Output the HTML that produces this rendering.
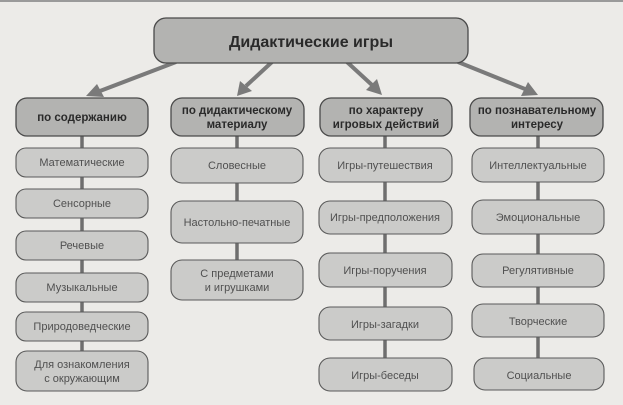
<!DOCTYPE html>
<html><head><meta charset="utf-8"><style>
html,body{margin:0;padding:0;background:#ecebe8;}
svg{display:block}
text{font-family:"Liberation Sans","Noto Sans CJK SC",sans-serif;text-anchor:middle;}
.h{fill:#b3b3b1;stroke:#4a4a4a;stroke-width:1.3}
.i{fill:#cbcbc9;stroke:#5a5a5a;stroke-width:1.1}
.ht{font-size:11.5px;font-weight:bold;fill:#2a2a2a}
.it{font-size:11px;fill:#505050}
.c{stroke:#6e6e6e;stroke-width:3.5}
.a{stroke:#7a7a7a;stroke-width:4}
</style></head><body>
<svg width="623" height="405" viewBox="0 0 623 405" xmlns="http://www.w3.org/2000/svg">
<rect x="0" y="0" width="623" height="2" fill="#9a9a9a"/>
<!-- connectors -->
<line class="c" x1="82" y1="136" x2="82" y2="351"/>
<line class="c" x1="237" y1="136" x2="237" y2="260"/>
<line class="c" x1="385" y1="136" x2="385" y2="358"/>
<line class="c" x1="538" y1="135" x2="538" y2="358"/>
<!-- arrows -->
<line class="a" x1="176" y1="62" x2="100" y2="91"/>
<polygon points="86,96 97,84 104,97" fill="#7a7a7a"/>
<line class="a" x1="272" y1="62" x2="246" y2="86"/>
<polygon points="237,96 240,81 252,91" fill="#7a7a7a"/>
<line class="a" x1="347" y1="62" x2="372" y2="85"/>
<polygon points="382,95 366,90 377,79" fill="#7a7a7a"/>
<line class="a" x1="458" y1="62" x2="525" y2="89"/>
<polygon points="538,95 521,96 528,82" fill="#7a7a7a"/>
<!-- title -->
<rect class="h" x="154" y="18" width="314" height="45" rx="12"/>
<text x="311" y="47" style="font-size:16px;font-weight:bold;fill:#2a2a2a">Дидактические  игры</text>
<!-- headers -->
<rect class="h" x="16" y="98" width="132" height="38" rx="11"/>
<text class="ht" x="82" y="121">по  содержанию</text>
<rect class="h" x="171" y="98" width="133" height="38" rx="11"/>
<text class="ht" x="237" y="114">по  дидактическому</text>
<text class="ht" x="237" y="128">материалу</text>
<rect class="h" x="320" y="98" width="132" height="38" rx="11"/>
<text class="ht" x="386" y="114">по  характеру</text>
<text class="ht" x="386" y="128">игровых  действий</text>
<rect class="h" x="470" y="98" width="133" height="38" rx="11"/>
<text class="ht" x="537" y="114">по  познавательному</text>
<text class="ht" x="537" y="128">интересу</text>
<!-- col1 -->
<rect class="i" x="16" y="148" width="132" height="29" rx="10"/><text class="it" x="82" y="166">Математические</text>
<rect class="i" x="16" y="189" width="132" height="29" rx="10"/><text class="it" x="82" y="207">Сенсорные</text>
<rect class="i" x="16" y="231" width="132" height="29" rx="10"/><text class="it" x="82" y="249">Речевые</text>
<rect class="i" x="16" y="273" width="132" height="29" rx="10"/><text class="it" x="82" y="291">Музыкальные</text>
<rect class="i" x="16" y="312" width="132" height="29" rx="10"/><text class="it" x="82" y="330">Природоведческие</text>
<rect class="i" x="16" y="351" width="132" height="40" rx="11"/><text class="it" x="82" y="368">Для  ознакомления</text><text class="it" x="82" y="382">с  окружающим</text>
<!-- col2 -->
<rect class="i" x="171" y="148" width="132" height="35" rx="11"/><text class="it" x="237" y="169">Словесные</text>
<rect class="i" x="171" y="201" width="132" height="42" rx="11"/><text class="it" x="237" y="226">Настольно-печатные</text>
<rect class="i" x="171" y="260" width="132" height="40" rx="11"/><text class="it" x="237" y="277">С  предметами</text><text class="it" x="237" y="291">и  игрушками</text>
<!-- col3 -->
<rect class="i" x="319" y="148" width="133" height="34" rx="11"/><text class="it" x="385" y="169">Игры-путешествия</text>
<rect class="i" x="319" y="201" width="133" height="33" rx="11"/><text class="it" x="385" y="221">Игры-предположения</text>
<rect class="i" x="319" y="253" width="133" height="34" rx="11"/><text class="it" x="385" y="274">Игры-поручения</text>
<rect class="i" x="319" y="307" width="133" height="33" rx="11"/><text class="it" x="385" y="328">Игры-загадки</text>
<rect class="i" x="319" y="358" width="133" height="33" rx="11"/><text class="it" x="385" y="379">Игры-беседы</text>
<!-- col4 -->
<rect class="i" x="472" y="148" width="132" height="34" rx="11"/><text class="it" x="538" y="169">Интеллектуальные</text>
<rect class="i" x="472" y="200" width="132" height="34" rx="11"/><text class="it" x="538" y="221">Эмоциональные</text>
<rect class="i" x="472" y="254" width="132" height="33" rx="11"/><text class="it" x="538" y="274">Регулятивные</text>
<rect class="i" x="472" y="304" width="132" height="33" rx="11"/><text class="it" x="538" y="325">Творческие</text>
<rect class="i" x="474" y="358" width="130" height="32" rx="11"/><text class="it" x="539" y="379">Социальные</text>
</svg>
</body></html>
